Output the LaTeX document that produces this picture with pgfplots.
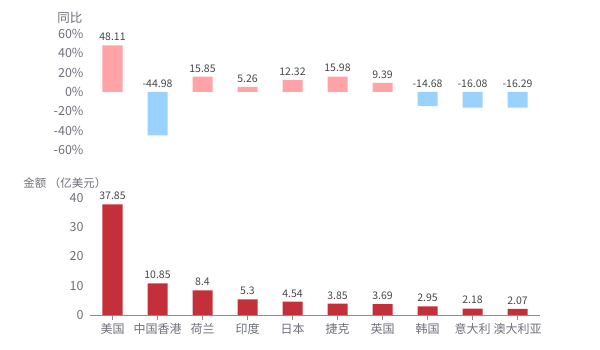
\documentclass[border=0pt]{standalone}
\usepackage{fontspec}
\setmainfont{Noto Sans CJK SC}
\usepackage{pgfplots}
\pgfplotsset{compat=1.18}
\definecolor{posc}{HTML}{FFA3A6}
\definecolor{negc}{HTML}{99D1FF}
\definecolor{barc}{HTML}{C4303A}
\definecolor{tickc}{HTML}{6E7079}
\definecolor{valc}{HTML}{464646}
\pgfplotsset{
  base/.style={
    scale only axis, width=450pt,
    xmin=-0.5, xmax=9.5, enlargelimits=false, clip=false,
    /pgf/number format/assume math mode=true,
    tick label style={font=\fontsize{12.5}{14}\selectfont, text=tickc},
    ybar, bar width=20pt,
    nodes near coords style={font=\fontsize{10.5}{12}\selectfont, text=valc, yshift=1pt},
    y axis line style={draw=none}, ytick style={draw=none},
    yticklabel style={xshift=-3pt},
  }
}
\begin{document}
\begin{tikzpicture}
\path[use as bounding box] (0,0) rectangle (600pt,350pt);
% top: year-on-year change
\begin{axis}[base,
  at={(90pt,200pt)}, anchor=south west, height=116pt,
  ymin=-60, ymax=60, ytick={-60,-40,...,60},
  yticklabel={\pgfmathprintnumber{\tick}\%},
  axis x line=none, axis y line*=left,
]
\addplot[fill=posc, draw=none, bar shift=0pt, nodes near coords]
  coordinates {(0,48.11) (2,15.85) (3,5.26) (4,12.32) (5,15.98) (6,9.39)};
\addplot[fill=negc, draw=none, bar shift=0pt]
  coordinates {(1,-44.98) (7,-14.68) (8,-16.08) (9,-16.29)};
\addplot[draw=none, fill=none, bar shift=0pt, nodes near coords,
  point meta=explicit symbolic,
  every node near coord/.append style={anchor=south}]
  coordinates {(1,0) [-44.98] (7,0) [-14.68] (8,0) [-16.08] (9,0) [-16.29]};
\node[anchor=east, text=tickc, font=\fontsize{12.5}{14}\selectfont]
  at (axis description cs:0,1) [xshift=-4pt, yshift=16pt] {同比};
\end{axis}
% bottom: amount
\begin{axis}[base,
  at={(90pt,35pt)}, anchor=south west, height=117pt,
  ymin=0, ymax=40, ytick={0,10,...,40},
  axis x line*=bottom, axis y line*=left,
  x axis line style={draw=tickc!80, line width=0.8pt},
  xtick={0,...,9}, xtick align=outside, major tick length=5pt,
  xtick style={draw=tickc!80, line width=0.8pt},
  xticklabels={美国,中国香港,荷兰,印度,日本,捷克,英国,韩国,意大利,澳大利亚},
  xticklabel style={font=\fontsize{12}{14}\selectfont},
]
\addplot[fill=barc, draw=none, bar shift=0pt, nodes near coords]
  coordinates {(0,37.85) (1,10.85) (2,8.4) (3,5.3) (4,4.54) (5,3.85) (6,3.69) (7,2.95) (8,2.18) (9,2.07)};
\node[anchor=east, text=tickc, font=\fontsize{11.5}{14}\selectfont]
  at (axis description cs:0,1) [xshift=20pt, yshift=15pt] {金额\ （亿美元）};
\end{axis}
\end{tikzpicture}
\end{document}
